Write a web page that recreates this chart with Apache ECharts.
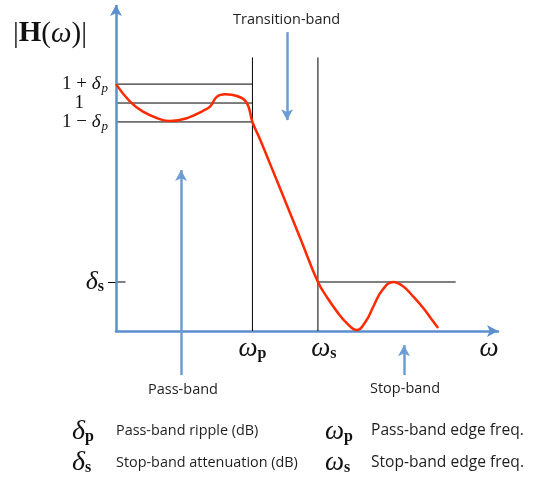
<!DOCTYPE html>
<html>
<head>
<meta charset="utf-8">
<script src="https://cdn.jsdelivr.net/npm/echarts@6/dist/echarts.min.js"></script>
<style>html,body{margin:0;padding:0;background:#fff}#c{width:533px;height:480px}</style>
</head>
<body>
<div id="c"></div>
<script>
// ---- data (normalised frequency / magnitude) ----
const freqX = [0, 0.103, 0.198, 0.301, 0.396, 0.521, 0.638, 0.689, 0.740, 0.799, 0.887, 0.960, 1.0, 1.06, 1.13, 1.24, 1.35, 1.48, 1.55, 1.62, 1.69, 1.765, 1.83, 1.89, 1.95, 2.033, 2.106, 2.179, 2.252, 2.317, 2.361];
const magY  = [1.083, 1.006, 0.962, 0.934, 0.921, 0.934, 0.966, 0.984, 1.028, 1.039, 1.031, 0.999, 0.917, 0.835, 0.732, 0.570, 0.408, 0.215, 0.145, 0.085, 0.036, 0.004, 0.042, 0.112, 0.178, 0.215, 0.195, 0.151, 0.101, 0.048, 0.013];
const deltaP = 0.083;
const deltaS = 0.215;
const omegaP = 1.0;
const omegaS = 1.48;
const omegaLabelPos = 2.735;
const edgeTop = 1.2;
const stopRefEnd = 2.49;
const xMax = 2.8, yMax = 1.43, yMin = -0.2;
const yTickValues = [1 - deltaP, 1, 1 + deltaP, deltaS];
const yTickLabels = ['{n|1 − }{i|δ}{s|p}', '{n|1}{g2|}', '{n|1 + }{i|δ}{s|p}', '{d|δ}{sb|s}{gap|}'];
const xTickValues = [omegaP, omegaS, omegaLabelPos];
const xTickLabels = ['{w|ω}{wb|p}', '{padL|}{w|ω}{wb|s}', '{w|ω}'];
// annotation arrows: [x0, y0, x1, y1]
const passBandArrow = [0.477, -0.193, 0.477, 0.706];
const transitionArrow = [1.254, 1.311, 1.254, 0.925];
const stopBandArrow = [2.111, -0.193, 2.111, -0.062];

const SERIF = '"Liberation Serif", "DejaVu Serif", serif';
const SANS = '"Open Sans", "Lato", sans-serif';
const BLUE = '#5b8fcc';
const ARROW_BLUE = '#6d9dd3';
const RED = '#ff2a00';

const refSegments = [
  [[0, 1 + deltaP], [omegaP, 1 + deltaP]],
  [[0, 1], [omegaP, 1]],
  [[0, 1 - deltaP], [omegaP, 1 - deltaP]],
  [[omegaP, 0], [omegaP, edgeTop]],
  [[omegaS, 0], [omegaS, edgeTop]],
  [[omegaS, deltaS], [stopRefEnd, deltaS]],
  [[0, deltaS], [0.07, deltaS]]
];

const mathRich = {
  n: {fontFamily: SERIF, fontSize: 19, color: '#111'},
  i: {fontFamily: SERIF, fontSize: 19, fontStyle: 'italic', color: '#111'},
  s: {fontFamily: SERIF, fontSize: 13, fontStyle: 'italic', color: '#111', padding: [9, 0, 0, 1]},
  d: {fontFamily: SERIF, fontSize: 26, fontStyle: 'italic', color: '#111'},
  sb: {fontFamily: SERIF, fontSize: 16, fontWeight: 'bold', color: '#111', padding: [10, 0, 0, 0]},
  gap: {width: 4},
  g2: {width: 24}
};
const xRich = {
  w: {fontFamily: SERIF, fontSize: 27, fontStyle: 'italic', color: '#111'},
  wb: {fontFamily: SERIF, fontSize: 16, fontWeight: 'bold', color: '#111', padding: [10, 0, 0, 0]},
  padL: {width: 12}
};

function arrowLine(a, color) {
  return [{coord: [a[0], a[1]], lineStyle: {color: color, width: 2.5, type: 'solid'}}, {coord: [a[2], a[3]]}];
}

const series = [];
refSegments.forEach(function (seg, k) {
  series.push({
    type: 'line', name: 'ref' + k, data: seg, symbol: 'none', silent: true,
    lineStyle: {color: '#000', width: 1}, z: 2
  });
});
series.push({
  type: 'line', name: 'annotations', data: [[0, 0]], symbol: 'none', silent: true,
  lineStyle: {opacity: 0}, z: 3,
  markLine: {
    silent: true, symbol: ['none', 'arrow'], symbolSize: [9, 11], label: {show: false},
    lineStyle: {color: ARROW_BLUE, width: 2.5, type: 'solid'},
    emphasis: {disabled: true}, animation: false,
    data: [
      [{coord: [0, 0], lineStyle: {color: BLUE, width: 2.5, type: 'solid'}}, {coord: [0, yMax]}],
      arrowLine(passBandArrow, ARROW_BLUE),
      arrowLine(transitionArrow, ARROW_BLUE),
      arrowLine(stopBandArrow, ARROW_BLUE)
    ]
  }
});
series.push({
  type: 'line', name: '|H(ω)|', data: freqX.map(function (x, i) { return [x, magY[i]]; }),
  smooth: 0.45, symbol: 'none', lineStyle: {color: RED, width: 2.5}, z: 5
});

const textCol = '#1e1e1e';
function t(x, y, text, font) {
  return {type: 'text', x: x, y: y, style: {text: text, font: font, fill: textCol, verticalAlign: 'middle', align: 'left'}};
}
const legendRich = {
  d: {fontFamily: SERIF, fontSize: 28, fontStyle: 'italic', fill: '#111'},
  w: {fontFamily: SERIF, fontSize: 27, fontStyle: 'italic', fill: '#111'},
  b: {fontFamily: SERIF, fontSize: 16, fontWeight: 'bold', fill: '#111', padding: [10, 0, 0, 0]}
};

const option = {
  animation: false,
  grid: {left: 116, right: 35, top: 5, bottom: 103.4, outerBoundsMode: 'none'},
  xAxis: {
    type: 'value', min: 0, max: xMax,
    axisLine: {onZero: true, symbol: ['none', 'arrow'], symbolSize: [9, 11], lineStyle: {color: BLUE, width: 2.5}},
    axisTick: {show: false}, splitLine: {show: false},
    axisLabel: {
      customValues: xTickValues, margin: -41, hideOverlap: false,
      formatter: function (v) { return xTickLabels[xTickValues.indexOf(v)]; },
      rich: xRich
    }
  },
  yAxis: {
    type: 'value', min: yMin, max: yMax,
    axisLine: {show: false}, splitLine: {show: false},
    axisTick: {show: true, customValues: [deltaS], length: 8, lineStyle: {color: '#000', width: 1}},
    axisLabel: {
      customValues: yTickValues, margin: 8, hideOverlap: false,
      formatter: function (v) { return yTickLabels[yTickValues.indexOf(v)]; },
      rich: mathRich
    }
  },
  graphic: [
    {type: 'text', x: 13, y: 34, style: {
      text: '{n||}{b|H}{n|(}{i|ω}{n|)|}', verticalAlign: 'middle',
      rich: {
        n: {fontFamily: SERIF, fontSize: 29, fill: '#111'},
        b: {fontFamily: SERIF, fontSize: 29, fontWeight: 'bold', fill: '#111'},
        i: {fontFamily: SERIF, fontSize: 29, fontStyle: 'italic', fill: '#111'}
      }}},
    t(233, 20, 'Transition-band', '14.5px ' + SANS),
    t(148, 390, 'Pass-band', '14.5px ' + SANS),
    t(370, 389, 'Stop-band', '14.5px ' + SANS),
    {type: 'text', x: 72, y: 432, style: {text: '{d|δ}{b|p}', verticalAlign: 'middle', rich: legendRich}},
    t(116, 431, 'Pass-band ripple (dB)', '14.4px ' + SANS),
    {type: 'text', x: 72, y: 463, style: {text: '{d|δ}{b|s}', verticalAlign: 'middle', rich: legendRich}},
    t(116, 463, 'Stop-band attenuation (dB)', '14.4px ' + SANS),
    {type: 'text', x: 325, y: 432, style: {text: '{w|ω}{b|p}', verticalAlign: 'middle', rich: legendRich}},
    t(371, 431, 'Pass-band edge freq.', '15.6px ' + SANS),
    {type: 'text', x: 325, y: 463, style: {text: '{w|ω}{b|s}', verticalAlign: 'middle', rich: legendRich}},
    t(371, 463, 'Stop-band edge freq.', '15.6px ' + SANS)
  ],
  series: series
};

const chart = echarts.init(document.getElementById('c'), null, {renderer: 'canvas'});
chart.setOption(option);
</script>
</body>
</html>
